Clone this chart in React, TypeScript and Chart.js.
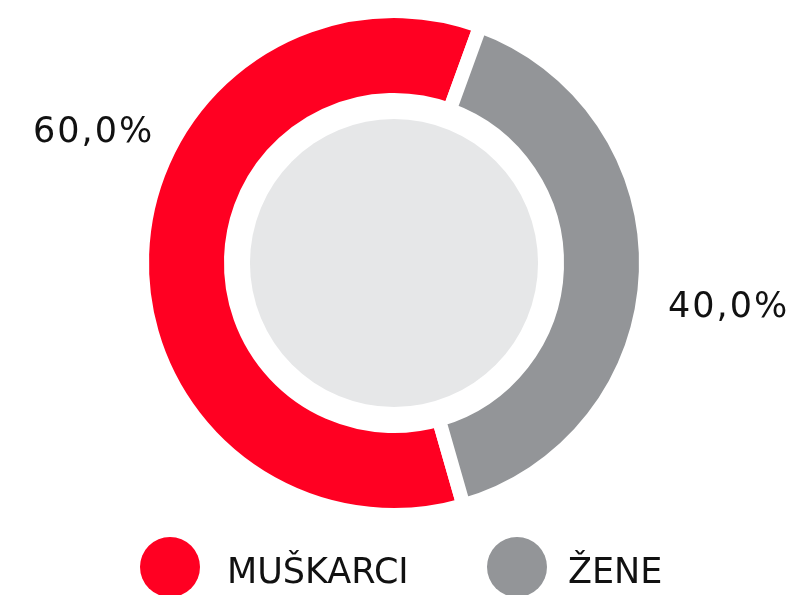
import React, { useEffect, useRef } from "react";
import { Chart, registerables } from "chart.js";

Chart.register(...registerables);

const categories = ["MUŠKARCI", "ŽENE"];
const values = [60.0, 40.0];
const colors = ["#FF0022", "#939598"];
const innerFill = "#E6E7E8";

const fmt = (v: number) => v.toFixed(1).replace(".", ",") + "%";

const centerPlugin = {
  id: "centerFill",
  beforeDatasetsDraw(chart: any) {
    const meta = chart.getDatasetMeta(0);
    const arc = meta.data[0];
    if (!arc) return;
    const ctx = chart.ctx;
    ctx.save();
    ctx.beginPath();
    ctx.arc(arc.x, arc.y, arc.innerRadius - 19, 0, Math.PI * 2);
    ctx.fillStyle = innerFill;
    ctx.fill();
    ctx.restore();
  },
};

const labelPlugin = {
  id: "extLabels",
  afterDraw(chart: any) {
    const meta = chart.getDatasetMeta(0);
    const arcs = meta.data;
    if (!arcs.length) return;
    const ctx = chart.ctx;
    const cx = arcs[0].x;
    const cy = arcs[0].y;
    ctx.save();
    ctx.fillStyle = "#111111";
    ctx.textBaseline = "alphabetic";
    ctx.textAlign = "left";
    ctx.font = "35px 'DejaVu Sans'";
    try { (ctx as any).letterSpacing = "2px"; } catch (e) {}
    // percentage labels outside the ring
    const offsets = [
      [-361, -121],
      [274, 54],
    ];
    values.forEach((v, i) => {
      ctx.fillText(fmt(v), cx + offsets[i][0], cy + offsets[i][1]);
    });
    try { (ctx as any).letterSpacing = "0px"; } catch (e) {}
    // legend
    ctx.font = "35px 'DejaVu Sans'";
    const legendY = chart.height - 28;
    const circleX = [170, 517];
    const textX = [227, 568];
    categories.forEach((c, i) => {
      ctx.beginPath();
      ctx.arc(circleX[i], legendY, 30, 0, Math.PI * 2);
      ctx.fillStyle = colors[i];
      ctx.fill();
      ctx.fillStyle = "#111111";
      ctx.fillText(c, textX[i], legendY + 16);
    });
    ctx.restore();
  },
};

export default function App() {
  const ref = useRef<HTMLCanvasElement | null>(null);
  useEffect(() => {
    if (!ref.current) return;
    const chart = new Chart(ref.current, {
      type: "doughnut",
      data: {
        labels: categories,
        datasets: [
          {
            data: values,
            backgroundColor: colors,
            borderColor: "#ffffff",
            borderWidth: 14,
            borderAlign: "center",
            hoverOffset: 0,
          },
        ],
      },
      options: {
        responsive: false,
        animation: false,
        rotation: 164,
        cutout: "64.7%",
        layout: { padding: { top: 4, bottom: 73, left: 100, right: 105 } },
        plugins: {
          legend: { display: false },
          tooltip: { enabled: false },
        },
        events: [],
      },
      plugins: [centerPlugin, labelPlugin],
    });
    return () => chart.destroy();
  }, []);
  return (
    <div style={{ position: "fixed", left: 0, top: 0, width: 793, height: 595, background: "#ffffff" }}>
      <canvas ref={ref} width={793} height={595} />
    </div>
  );
}
